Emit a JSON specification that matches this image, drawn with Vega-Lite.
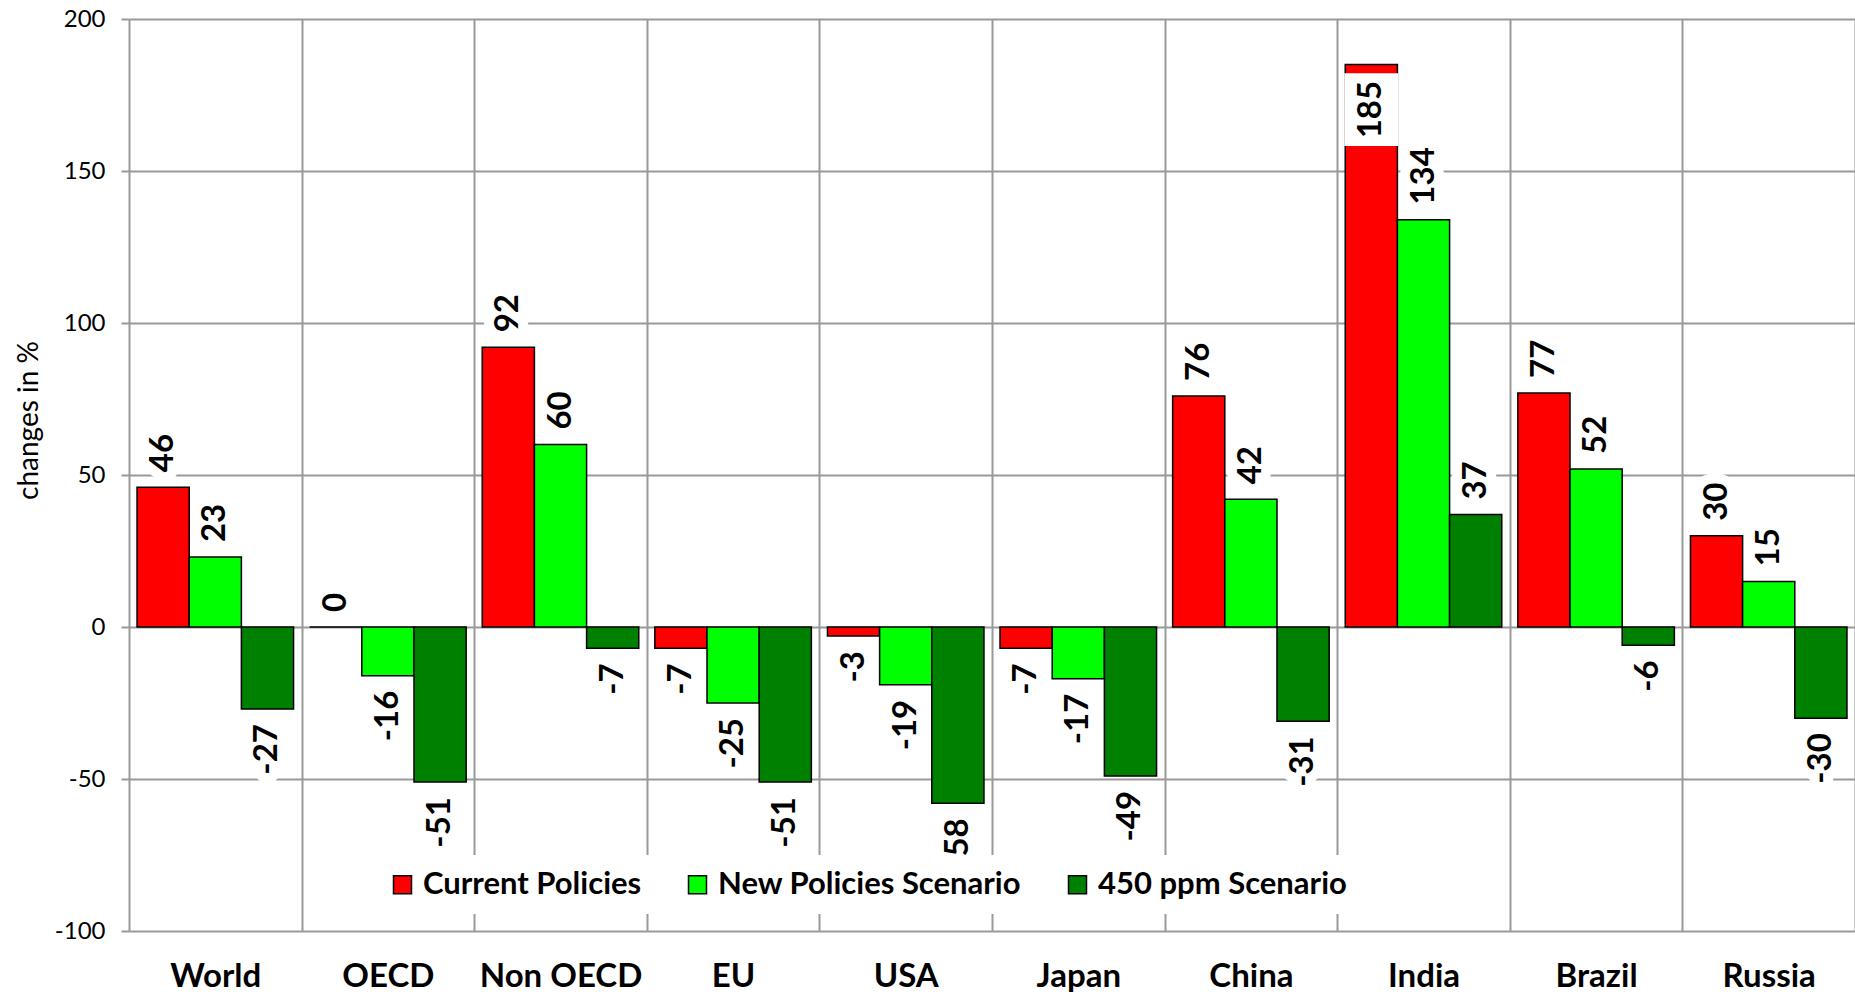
{
  "$schema": "https://vega.github.io/schema/vega-lite/v6.json",
  "description": "Changes in % by region and scenario.",
  "width": 1726,
  "height": 912,
  "autosize": {"type": "none"},
  "padding": {"left": 129, "top": 19, "right": 0, "bottom": 63},
  "background": "white",
  "data": {
    "values": [
      {"region": "World", "scenario": "Current Policies", "value": 46},
      {"region": "World", "scenario": "New Policies Scenario", "value": 23},
      {"region": "World", "scenario": "450 ppm Scenario", "value": -27},
      {"region": "OECD", "scenario": "Current Policies", "value": 0},
      {"region": "OECD", "scenario": "New Policies Scenario", "value": -16},
      {"region": "OECD", "scenario": "450 ppm Scenario", "value": -51},
      {"region": "Non OECD", "scenario": "Current Policies", "value": 92},
      {"region": "Non OECD", "scenario": "New Policies Scenario", "value": 60},
      {"region": "Non OECD", "scenario": "450 ppm Scenario", "value": -7},
      {"region": "EU", "scenario": "Current Policies", "value": -7},
      {"region": "EU", "scenario": "New Policies Scenario", "value": -25},
      {"region": "EU", "scenario": "450 ppm Scenario", "value": -51},
      {"region": "USA", "scenario": "Current Policies", "value": -3},
      {"region": "USA", "scenario": "New Policies Scenario", "value": -19},
      {"region": "USA", "scenario": "450 ppm Scenario", "value": -58},
      {"region": "Japan", "scenario": "Current Policies", "value": -7},
      {"region": "Japan", "scenario": "New Policies Scenario", "value": -17},
      {"region": "Japan", "scenario": "450 ppm Scenario", "value": -49},
      {"region": "China", "scenario": "Current Policies", "value": 76},
      {"region": "China", "scenario": "New Policies Scenario", "value": 42},
      {"region": "China", "scenario": "450 ppm Scenario", "value": -31},
      {"region": "India", "scenario": "Current Policies", "value": 185},
      {"region": "India", "scenario": "New Policies Scenario", "value": 134},
      {"region": "India", "scenario": "450 ppm Scenario", "value": 37},
      {"region": "Brazil", "scenario": "Current Policies", "value": 77},
      {"region": "Brazil", "scenario": "New Policies Scenario", "value": 52},
      {"region": "Brazil", "scenario": "450 ppm Scenario", "value": -6},
      {"region": "Russia", "scenario": "Current Policies", "value": 30},
      {"region": "Russia", "scenario": "New Policies Scenario", "value": 15},
      {"region": "Russia", "scenario": "450 ppm Scenario", "value": -30}
    ]
  },
  "encoding": {
    "x": {
      "field": "region",
      "type": "nominal",
      "sort": ["World", "OECD", "Non OECD", "EU", "USA", "Japan", "China", "India", "Brazil", "Russia"],
      "scale": {"paddingInner": 0, "paddingOuter": 0},
      "axis": {
        "title": null,
        "labelAngle": 0,
        "labelFont": "Lato",
        "labelFontSize": 33,
        "labelFontWeight": "bold",
        "labelColor": "black",
        "labelPadding": 29,
        "ticks": false,
        "domain": false,
        "grid": true,
        "tickBand": "extent",
        "gridColor": "#999999",
        "gridWidth": 2
      }
    },
    "xOffset": {
      "field": "scenario",
      "type": "nominal",
      "sort": ["Current Policies", "New Policies Scenario", "450 ppm Scenario"],
      "scale": {"paddingInner": 0, "paddingOuter": 0.154}
    },
    "y": {
      "field": "value",
      "type": "quantitative",
      "scale": {"domain": [-100, 200], "nice": false},
      "axis": {
        "title": "changes in %",
        "titleFont": "Lato",
        "titleFontSize": 28,
        "titleFontWeight": "normal",
        "titleColor": "black",
        "titlePadding": 11,
        "titleY": 401,
        "labelFont": "Lato",
        "labelFontSize": 24,
        "labelColor": "black",
        "labelPadding": 16,
        "labelExpr": "'' + datum.value",
        "values": [-100, -50, 0, 50, 100, 150, 200],
        "tickSize": 8,
        "tickColor": "#999999",
        "tickWidth": 2,
        "domain": false,
        "gridColor": "#999999",
        "gridWidth": 2
      }
    }
  },
  "layer": [
    {
      "mark": {"type": "bar", "stroke": "black", "strokeWidth": 1.5},
      "encoding": {
        "fill": {
          "field": "scenario",
          "type": "nominal",
          "scale": {
            "domain": ["Current Policies", "New Policies Scenario", "450 ppm Scenario"],
            "range": ["#ff0000", "#00ff00", "#008000"]
          },
          "legend": {
            "title": null,
            "orient": "none",
            "legendX": 244,
            "legendY": 836,
            "direction": "horizontal",
            "columns": 3,
            "fillColor": "white",
            "padding": 14,
            "columnPadding": 40,
            "symbolType": "square",
            "symbolSize": 324,
            "symbolStrokeColor": "black",
            "symbolStrokeWidth": 1.5,
            "symbolOpacity": 1,
            "labelFont": "Lato",
            "labelFontSize": 31,
            "labelFontWeight": "bold",
            "labelColor": "black",
            "labelOffset": 5,
            "labelLimit": 0
          }
        }
      }
    },
    {
      "transform": [{"filter": "datum.value >= 0 && datum.value < 150"}],
      "layer": [
        {
          "mark": {"type": "text", "angle": 270, "align": "left", "baseline": "middle", "dx": 15, "font": "Lato", "fontSize": 33, "fontWeight": "bold", "fill": "white", "stroke": "white", "strokeWidth": 20, "strokeJoin": "round"},
          "encoding": {"text": {"field": "value", "type": "nominal"}}
        },
        {
          "mark": {"type": "text", "angle": 270, "align": "left", "baseline": "middle", "dx": 15, "font": "Lato", "fontSize": 33, "fontWeight": "bold", "fill": "black"},
          "encoding": {"text": {"field": "value", "type": "nominal"}}
        }
      ]
    },
    {
      "transform": [{"filter": "datum.value >= 150"}],
      "layer": [
        {
          "mark": {"type": "point", "shape": "M-1,-1.35H1V1.35H-1Z", "size": 2916, "filled": true, "fill": "white", "strokeWidth": 0, "opacity": 1, "yOffset": 45},
          "encoding": {}
        },
        {
          "mark": {"type": "text", "angle": 270, "align": "center", "baseline": "middle", "dx": -45, "font": "Lato", "fontSize": 33, "fontWeight": "bold", "fill": "black"},
          "encoding": {"text": {"field": "value", "type": "nominal"}}
        }
      ]
    },
    {
      "transform": [{"filter": "datum.value < 0"}],
      "layer": [
        {
          "mark": {"type": "text", "angle": 270, "align": "right", "baseline": "middle", "dx": -15, "font": "Lato", "fontSize": 33, "fontWeight": "bold", "fill": "white", "stroke": "white", "strokeWidth": 20, "strokeJoin": "round"},
          "encoding": {"text": {"field": "value", "type": "nominal"}}
        },
        {
          "mark": {"type": "text", "angle": 270, "align": "right", "baseline": "middle", "dx": -15, "font": "Lato", "fontSize": 33, "fontWeight": "bold", "fill": "black"},
          "encoding": {"text": {"field": "value", "type": "nominal"}}
        }
      ]
    }
  ]
}
